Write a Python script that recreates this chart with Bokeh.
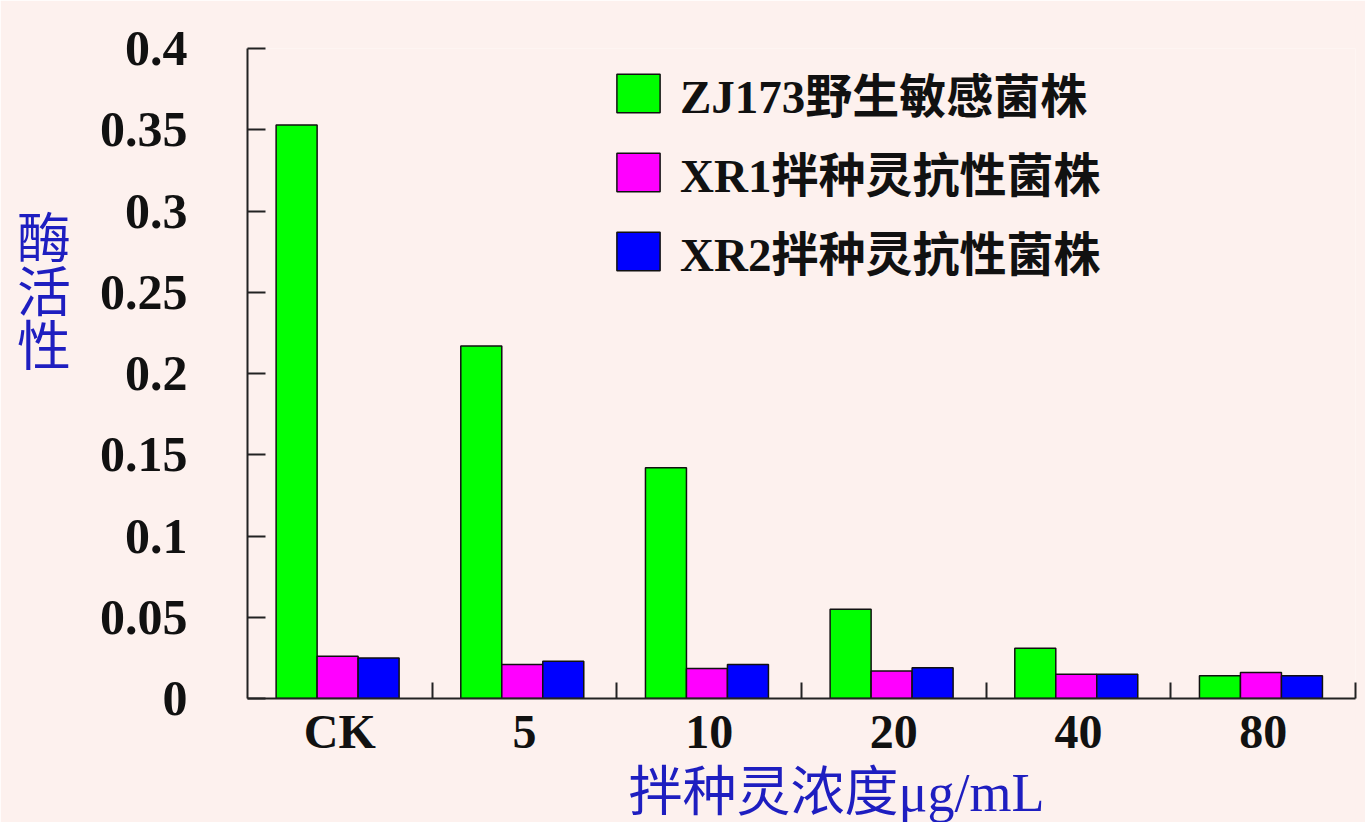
import numpy as np
from bokeh.plotting import figure
from bokeh.models import (Range1d, FixedTicker, Legend, LegendItem, Title)
from bokeh.embed import file_html
from bokeh.resources import INLINE

# --- data -------------------------------------------------------------
concentrations = ["CK", "5", "10", "20", "40", "80"]
series_names = ["ZJ173野生敏感菌株", "XR1拌种灵抗性菌株", "XR2拌种灵抗性菌株"]
zj173 = [0.353, 0.217, 0.142, 0.055, 0.031, 0.014]
xr1 = [0.026, 0.021, 0.0185, 0.017, 0.015, 0.016]
xr2 = [0.025, 0.023, 0.021, 0.019, 0.015, 0.014]
y_ticks = [0, 0.05, 0.1, 0.15, 0.2, 0.25, 0.3, 0.35, 0.4]
y_tick_labels = ["0", "0.05", "0.1", "0.15", "0.2", "0.25", "0.3", "0.35", "0.4"]
y_title = "酶活性"
x_title = "拌种灵浓度μg/mL"

colors = ["#00FF00", "#FF00FF", "#0000FF"]
offsets = [-0.234, -0.012, 0.21]
bar_w = 0.222
bg = "#FDF1EE"
title_color = "#1E1EC0"
serif = "Liberation Serif, Noto Sans CJK SC"

centers = np.arange(len(concentrations)) + 0.5

p = figure(width=1365, height=822, output_backend="svg", toolbar_location=None,
           x_range=Range1d(0, len(concentrations)), y_range=Range1d(0, 0.4),
           min_border_left=247, min_border_right=10, min_border_top=48,
           min_border_bottom=124)
p.background_fill_color = bg
p.border_fill_color = bg
p.outline_line_color = None
p.xgrid.visible = False
p.ygrid.visible = False

renderers = []
for vals, col, off in zip([zj173, xr1, xr2], colors, offsets):
    r = p.vbar(x=centers + off, top=vals, width=bar_w, bottom=0,
               fill_color=col, line_color="#111111", line_width=1.5)
    renderers.append(r)

# y axis: ticks pointing inward, title stacked one character per line
ya = p.yaxis[0]
ya.ticker = FixedTicker(ticks=y_ticks)
ya.major_label_overrides = {t: s for t, s in zip(y_ticks, y_tick_labels)}
ya.major_tick_in = 18
ya.major_tick_out = 0
ya.minor_tick_line_color = None
ya.major_tick_line_width = 2
ya.axis_line_width = 2
ya.axis_line_color = "#222222"
ya.major_tick_line_color = "#222222"
ya.major_label_text_font = serif
ya.major_label_text_font_style = "bold"
ya.major_label_text_font_size = "50px"
ya.major_label_text_color = "#111111"
ya.major_label_standoff = 60
ya.axis_label = "\n".join(y_title) + "\n\n\n"
ya.axis_label_orientation = "horizontal"
ya.axis_label_text_font = "Liberation Sans, Noto Sans CJK SC"
ya.axis_label_text_font_style = "normal"
ya.axis_label_text_font_size = "54px"
ya.axis_label_text_line_height = 0.9
ya.axis_label_text_color = title_color
ya.axis_label_standoff = 26

# x axis: labels at group centres, short ticks at group boundaries
xa = p.xaxis[0]
xa.ticker = FixedTicker(ticks=list(centers),
                        minor_ticks=list(range(1, len(concentrations) + 1)))
xa.major_label_overrides = {float(c): s for c, s in zip(centers, concentrations)}
xa.major_tick_in = 0
xa.major_tick_out = 0
xa.minor_tick_in = 16
xa.minor_tick_out = 0
xa.minor_tick_line_width = 2
xa.minor_tick_line_color = "#222222"
xa.axis_line_width = 2
xa.axis_line_color = "#222222"
xa.major_label_text_font = serif
xa.major_label_text_font_style = "bold"
xa.major_label_text_font_size = "48px"
xa.major_label_text_color = "#111111"
xa.major_label_standoff = 6

# x-axis title under the category labels
p.add_layout(Title(text=x_title, align="left", offset=381, standoff=0,
                   text_font=serif, text_font_style="normal",
                   text_font_size="54px", text_color=title_color), "below")

legend = Legend(items=[LegendItem(label=n, renderers=[r])
                       for n, r in zip(series_names, renderers)],
                location=(364, 413))
legend.background_fill_alpha = 0
legend.border_line_color = None
legend.padding = 0
legend.margin = 0
legend.glyph_width = 54
legend.glyph_height = 48
legend.label_height = 40
legend.spacing = 10
legend.label_standoff = 15
legend.label_text_font = serif
legend.label_text_font_style = "bold"
legend.label_text_font_size = "47px"
legend.label_text_color = "#111111"
p.add_layout(legend, "center")

open("out.html", "w").write(file_html(p, INLINE))
